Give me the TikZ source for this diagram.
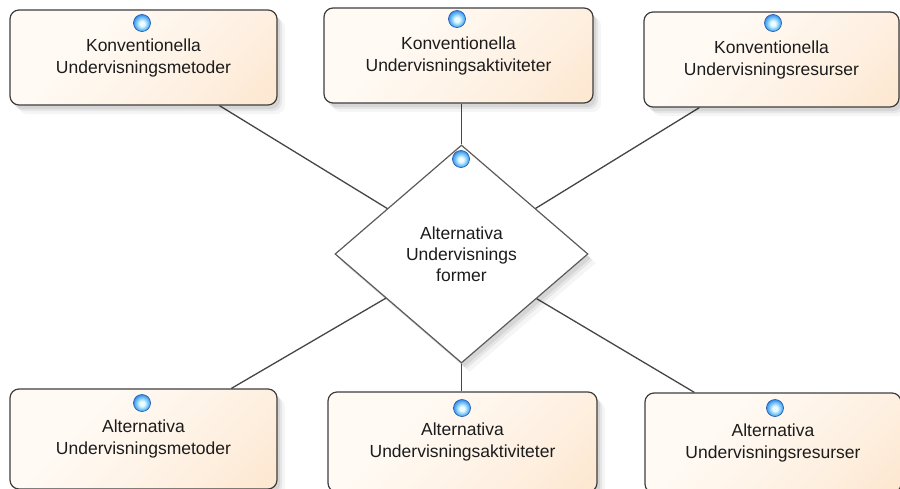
\documentclass[tikz,border=0pt]{standalone}
\usepackage{fontspec}
\setmainfont{Liberation Sans}
\usetikzlibrary{shapes.geometric,shadows,backgrounds}

\definecolor{edgegray}{RGB}{62,62,62}
\definecolor{linkgray}{RGB}{70,70,70}
\definecolor{peachlight}{RGB}{255,250,244}
\definecolor{peachmid}{RGB}{254,240,225}
\definecolor{peachdark}{RGB}{252,224,194}
\definecolor{ballin}{RGB}{236,252,255}
\definecolor{ballmid}{RGB}{120,200,250}
\definecolor{ballout}{RGB}{40,118,225}
\definecolor{ballrim}{RGB}{36,96,180}
\definecolor{inktext}{RGB}{28,28,28}

% cream-to-peach fill, light over most of the box
\pgfdeclarehorizontalshading{peachfade}{100bp}{%
  color(0bp)=(peachlight); color(35bp)=(peachlight);
  color(65bp)=(peachmid); color(100bp)=(peachdark)}
% glossy port marker
\pgfdeclareradialshading{portglow}{\pgfpoint{0bp}{-2bp}}{%
  color(0bp)=(ballin); color(7bp)=(ballin); color(17bp)=(ballmid);
  color(29bp)=(ballout); color(50bp)=(ballout)}

\begin{document}
\begin{tikzpicture}[x=1pt,y=-1pt,
  softshadow/.style={
    general shadow={fill=black,draw=none,opacity=0.07,shadow xshift=3pt,shadow yshift=-4pt},
    general shadow={fill=black,draw=none,opacity=0.06,shadow xshift=5pt,shadow yshift=-6pt},
    general shadow={fill=black,draw=none,opacity=0.04,shadow xshift=8pt,shadow yshift=-9pt}},
  conceptbox/.style={softshadow, rectangle, rounded corners=9pt,
    draw=edgegray, line width=1.2pt,
    shading=peachfade, shading angle=-45,
    align=center, text=inktext, inner sep=0pt,
    font=\fontsize{17.5}{22}\selectfont},
  hubdiamond/.style={softshadow, diamond, draw=edgegray!85, line width=1.2pt,
    fill=white, inner sep=0pt, align=center, text=inktext,
    font=\fontsize{17.5}{21}\selectfont},
  portball/.style={circle, minimum size=17pt, inner sep=0pt,
    shading=portglow, draw=ballrim, line width=0.7pt},
  link/.style={draw=linkgray, line width=1.3pt}
]
\useasboundingbox (0,0) rectangle (900,488);
\begin{scope}[on background layer]
  \fill[white] (0,0) rectangle (900,488);
\end{scope}
\clip (0,0) rectangle (900,488);

% upper row: conventional forms
\node[conceptbox, minimum width=267pt, minimum height=95pt] (km) at (143.5,57.5)
  {Konventionella\\Undervisningsmetoder};
\node[conceptbox, minimum width=269pt, minimum height=95pt] (ka) at (458.5,55.5)
  {Konventionella\\Undervisningsaktiviteter};
\node[conceptbox, minimum width=255pt, minimum height=95pt] (kr) at (771.5,59.5)
  {Konventionella\\Undervisningsresurser};

% lower row: alternative forms
\node[conceptbox, minimum width=267pt, minimum height=100pt] (am) at (143.5,439)
  {Alternativa\\Undervisningsmetoder};
\node[conceptbox, minimum width=269pt, minimum height=100pt] (aa) at (462.5,442)
  {Alternativa\\Undervisningsaktiviteter};
\node[conceptbox, minimum width=256pt, minimum height=100pt] (ar) at (773,443)
  {Alternativa\\Undervisningsresurser};

% central hub
\node[hubdiamond, minimum width=253pt, minimum height=218pt] (hub) at (461.5,254)
  {Alternativa\\Undervisnings\\former};

% connection ports
\node[portball] (pkm) at (142,23) {};
\node[portball] (pka) at (457,19) {};
\node[portball] (pkr) at (773,23) {};
\node[portball] (pam) at (142,403) {};
\node[portball] (paa) at (462,408) {};
\node[portball] (par) at (775,408) {};
\node[portball] (phub) at (461,159) {};

% connectors run behind the boxes and the hub
\begin{scope}[on background layer]
  \draw[link] ([xshift=210pt]km.south west) -- (hub.center);
  \draw[link] (hub.north |- ka.south) -- (hub.north);
  \draw[link] ([xshift=56pt]kr.south west) -- (hub.center);
  \draw[link] ([xshift=222pt]am.north west) -- (hub.center);
  \draw[link] (hub.south) -- (hub.south |- aa.north);
  \draw[link] ([xshift=50pt]ar.north west) -- (hub.center);
\end{scope}
\end{tikzpicture}
\end{document}
